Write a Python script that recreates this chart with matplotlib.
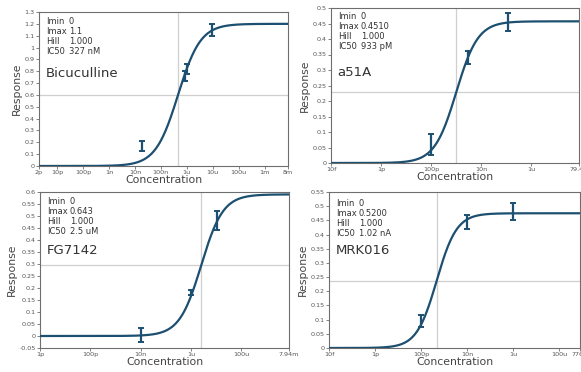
import matplotlib.pyplot as plt
import numpy as np

plt.rcParams['font.family'] = ['DejaVu Sans']

# drug names and printed fit parameters
names = ['Bicuculline', 'a51A', 'FG7142', 'MRK016']
imin_txt = ['0', '0', '0', '0']
imax_txt = ['1.1', '0.4510', '0.643', '0.5200']
hill_txt = ['1.000', '1.000', '1.000', '1.000']
ic50_txt = ['327 nM', '933 pM', '2.5 uM', '1.02 nA']

# curve as drawn (plateau and midpoint)
fit_top = [1.2, 0.457, 0.59, 0.475]
fit_mid = [4.6e-7, 1.0e-9, 2.57e-6, 4.7e-10]
fit_hill = [1.0, 1.0, 1.0, 1.0]

# measured points
conc_1 = [1.95e-8, 8.3e-7, 1.0e-6, 9.1e-6]
resp_1 = [0.17, 0.76, 0.82, 1.15]
err_1 = [0.04, 0.04, 0.04, 0.05]

conc_2 = [1.0e-10, 3.05e-9, 1.12e-7]
resp_2 = [0.06, 0.34, 0.455]
err_2 = [0.035, 0.02, 0.03]

conc_3 = [1.0e-8, 1.0e-6, 1.07e-5]
resp_3 = [0.005, 0.18, 0.48]
err_3 = [0.03, 0.01, 0.04]

conc_4 = [1.0e-10, 1.0e-8, 1.0e-6]
resp_4 = [0.095, 0.445, 0.48]
err_4 = [0.02, 0.025, 0.03]

concs = [conc_1, conc_2, conc_3, conc_4]
resps = [resp_1, resp_2, resp_3, resp_4]
errs = [err_1, err_2, err_3, err_4]

# axis ranges and tick labels
xlims = [(2e-12, 8e-3), (1e-14, 7.94e-5), (1e-12, 7.94e-3), (1e-14, 7.76e-4)]
xtick_vals = [
    [2e-12, 1e-11, 1e-10, 1e-9, 1e-8, 1e-7, 1e-6, 1e-5, 1e-4, 1e-3, 8e-3],
    [1e-14, 1e-12, 1e-10, 1e-8, 1e-6, 7.94e-5],
    [1e-12, 1e-10, 1e-8, 1e-6, 1e-4, 7.94e-3],
    [1e-14, 1e-12, 1e-10, 1e-8, 1e-6, 1e-4, 7.76e-4],
]
xtick_txt = [
    ['2p', '10p', '100p', '1n', '10n', '100n', '1u', '10u', '100u', '1m', '8m'],
    ['10f', '1p', '100p', '10n', '1u', '79.4u'],
    ['1p', '100p', '10n', '1u', '100u', '7.94m'],
    ['10f', '1p', '100p', '10n', '1u', '100u', '776u'],
]
ylims = [(0, 1.3), (0, 0.5), (-0.05, 0.6), (0, 0.55)]
ystep = [0.1, 0.05, 0.05, 0.05]

# axes boxes in pixels: left, top, right, bottom
W, H = 581, 372
boxes = [(39, 12, 288, 166), (331, 8, 579, 163), (40, 192, 289, 348), (329, 192, 580, 348)]
text_y = [0.937, 0.944, 0.942, 0.928]
name_y = [0.60, 0.583, 0.628, 0.624]

line_col = '#1c4f70'
frame_col = '#6e6e6e'

fig = plt.figure(figsize=(W / 100, H / 100), dpi=100)

for i in range(4):
    l, t, r, b = boxes[i]
    ax = fig.add_axes([l / W, 1 - b / H, (r - l) / W, (b - t) / H])
    ax.set_xscale('log')
    ax.set_xlim(*xlims[i])
    ax.set_ylim(*ylims[i])

    # fitted curve
    xs = np.logspace(np.log10(xlims[i][0]), np.log10(xlims[i][1]), 400)
    ys = fit_top[i] / (1 + (fit_mid[i] / xs) ** fit_hill[i])
    ax.axvline(fit_mid[i], color='#cfcfcf', lw=0.9, zorder=1)
    ax.axhline(fit_top[i] / 2, color='#cfcfcf', lw=0.9, zorder=1)
    ax.plot(xs, ys, color=line_col, lw=1.6, zorder=3)
    ax.errorbar(concs[i], resps[i], yerr=errs[i], fmt='none', ecolor=line_col,
                elinewidth=1.6, capsize=2.2, capthick=1.4, zorder=4)

    # ticks
    ax.xaxis.set_major_locator(plt.FixedLocator(xtick_vals[i]))
    ax.xaxis.set_major_formatter(plt.FixedFormatter(xtick_txt[i]))
    ax.xaxis.set_minor_locator(plt.NullLocator())
    lo, hi = ylims[i]
    yt = np.round(np.arange(lo, hi + 1e-9, ystep[i]), 3)
    ax.set_yticks(yt)
    ax.set_yticklabels(['%g' % v for v in yt])
    ax.tick_params(axis='both', labelsize=4.6, length=2, width=0.6,
                   color=frame_col, labelcolor='#555555', pad=1)
    for sp in ax.spines.values():
        sp.set_color(frame_col)
        sp.set_linewidth(0.8)

    ax.set_xlabel('Concentration', fontsize=7.8, color='#444444', labelpad=0)
    ax.set_ylabel('Response', fontsize=7.8, color='#444444', labelpad=2)

    rows = [('Imin', imin_txt[i]), ('Imax', imax_txt[i]),
            ('Hill', hill_txt[i]), ('IC50', ic50_txt[i])]
    for k, (lab, val) in enumerate(rows):
        ax.annotate(lab, xy=(0.027, text_y[i]), xycoords='axes fraction',
                    xytext=(0, -k * 7.2), textcoords='offset points',
                    fontsize=6, color='#333333', va='center', ha='left')
        ax.annotate(val, xy=(0.027, text_y[i]), xycoords='axes fraction',
                    xytext=(16.5, -k * 7.2), textcoords='offset points',
                    fontsize=6, color='#333333', va='center', ha='left')
    ax.text(0.027, name_y[i], names[i], transform=ax.transAxes,
            fontsize=9.5, color='#333333', va='center', ha='left')

fig.savefig('out.png', dpi=100)
